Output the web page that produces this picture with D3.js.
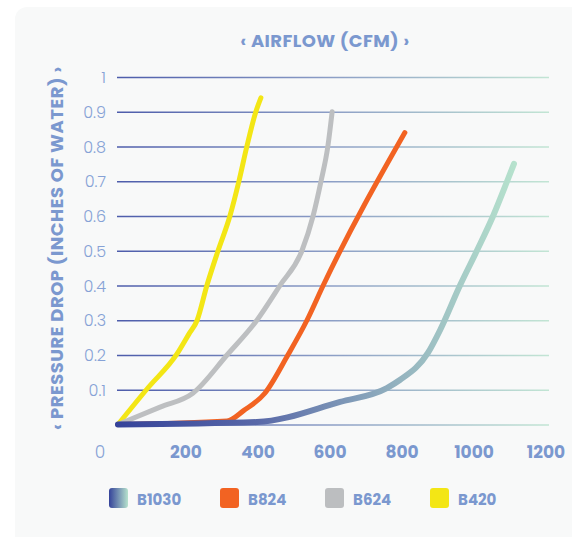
<!DOCTYPE html>
<html>
<head>
<meta charset="utf-8">
<script src="https://cdn.jsdelivr.net/npm/d3@7"></script>
<style>
  body { margin: 0; background: #fff; }
  text { font-family: Poppins, Inter, "Open Sans", sans-serif; }
</style>
</head>
<body>
<svg width="572" height="537"></svg>
<script>
// series: airflow (CFM) and pressure drop (in. of water)
const seriesNames = ['B1030', 'B824', 'B624', 'B420'];

const b1030Airflow  = [11, 397, 628, 758, 794, 872, 906, 961, 1008, 1053, 1092, 1111];
const b1030Pressure = [0, 0.007, 0.065, 0.105, 0.128, 0.206, 0.272, 0.40, 0.50, 0.60, 0.70, 0.75];

const b824Airflow  = [11, 314, 360, 419, 483, 536, 581, 808];
const b824Pressure = [0, 0.01, 0.04, 0.09, 0.20, 0.30, 0.40, 0.84];

const b624Airflow  = [11, 128, 219, 314, 397, 461, 522, 553, 575, 594, 606];
const b624Pressure = [0, 0.05, 0.09, 0.20, 0.30, 0.40, 0.50, 0.60, 0.70, 0.80, 0.90];

const b420Airflow  = [11, 94, 175, 208, 231, 258, 289, 322, 347, 369, 394, 408];
const b420Pressure = [0, 0.105, 0.203, 0.26, 0.30, 0.40, 0.50, 0.60, 0.70, 0.80, 0.90, 0.94];

const xTicks = [200, 400, 600, 800, 1000, 1200];
const yTicks = [0, 0.1, 0.2, 0.3, 0.4, 0.5, 0.6, 0.7, 0.8, 0.9, 1];

const svg = d3.select('svg');
const textColor = '#7b98cf';

// card
svg.append('rect')
    .attr('x', 15).attr('y', 7)
    .attr('width', 580).attr('height', 560)
    .attr('rx', 12)
    .attr('fill', '#f8f9f9');

const xScale = d3.scaleLinear().domain([0, 1200]).range([114, 546]);
const yScale = d3.scaleLinear().domain([0, 1]).range([424.5, 77]);

const defs = svg.append('defs');

const gridGrad = defs.append('linearGradient')
    .attr('id', 'gridGrad')
    .attr('gradientUnits', 'userSpaceOnUse')
    .attr('x1', 117).attr('x2', 549).attr('y1', 0).attr('y2', 0);
gridGrad.append('stop').attr('offset', 0).attr('stop-color', '#4d5cab');
gridGrad.append('stop').attr('offset', 0.5).attr('stop-color', '#8d9fc6');
gridGrad.append('stop').attr('offset', 1).attr('stop-color', '#c2e5d4');

const blueGrad = defs.append('linearGradient')
    .attr('id', 'blueGrad')
    .attr('gradientUnits', 'userSpaceOnUse')
    .attr('x1', 117).attr('x2', 516).attr('y1', 0).attr('y2', 0);
blueGrad.append('stop').attr('offset', 0).attr('stop-color', '#35439a');
blueGrad.append('stop').attr('offset', 0.35).attr('stop-color', '#5868a8');
blueGrad.append('stop').attr('offset', 0.7).attr('stop-color', '#93b2bf');
blueGrad.append('stop').attr('offset', 1).attr('stop-color', '#b6e2cd');

const swatchGrad = defs.append('linearGradient')
    .attr('id', 'swatchGrad')
    .attr('x1', 0).attr('x2', 1).attr('y1', 0).attr('y2', 0);
swatchGrad.append('stop').attr('offset', 0).attr('stop-color', '#35439a');
swatchGrad.append('stop').attr('offset', 1).attr('stop-color', '#b6e2cd');

// grid lines
svg.append('g').selectAll('line').data(yTicks)
    .enter().append('line')
    .attr('x1', 117).attr('x2', 549)
    .attr('y1', d => yScale(d) + 0.5).attr('y2', d => yScale(d) + 0.5)
    .attr('stroke', 'url(#gridGrad)')
    .attr('stroke-width', 1.4);

// y tick labels
svg.append('g').selectAll('text').data(yTicks.filter(d => d > 0))
    .enter().append('text')
    .attr('x', 106)
    .attr('y', d => yScale(d) + 6)
    .attr('text-anchor', 'end')
    .attr('font-size', 16)
    .attr('font-weight', 300)
    .attr('fill', '#86a2d6')
    .text(d => d3.format('~g')(d));

// x tick labels
svg.append('g').selectAll('text').data(xTicks)
    .enter().append('text')
    .attr('x', d => xScale(d))
    .attr('y', 458)
    .attr('text-anchor', 'middle')
    .attr('font-size', 17)
    .attr('font-weight', 700)
    .attr('fill', textColor)
    .text(d => d);

svg.append('text')
    .attr('x', 100).attr('y', 458)
    .attr('text-anchor', 'middle')
    .attr('font-size', 17)
    .attr('font-weight', 300)
    .attr('fill', '#86a2d6')
    .text('0');

// titles
svg.append('text')
    .attr('x', 325).attr('y', 47)
    .attr('text-anchor', 'middle')
    .attr('font-size', 18)
    .attr('font-weight', 700)
    .attr('letter-spacing', 0.4)
    .attr('fill', textColor)
    .text('‹  AIRFLOW (CFM)  ›');

svg.append('text')
    .attr('transform', 'translate(63, 248) rotate(-90)')
    .attr('text-anchor', 'middle')
    .attr('font-size', 18)
    .attr('font-weight', 700)
    .attr('letter-spacing', 0.5)
    .attr('fill', textColor)
    .text('‹  PRESSURE DROP (INCHES OF WATER)  ›');

// lines
const line = d3.line()
    .x(d => xScale(d[0]))
    .y(d => yScale(d[1]))
    .curve(d3.curveMonotoneX);

const series = [
    {name: 'B1030', x: b1030Airflow, y: b1030Pressure, color: 'url(#blueGrad)', width: 6, swatch: 'url(#swatchGrad)'},
    {name: 'B824', x: b824Airflow, y: b824Pressure, color: '#f26322', width: 5, swatch: '#f26322'},
    {name: 'B624', x: b624Airflow, y: b624Pressure, color: '#bdbfc1', width: 5, swatch: '#bcbec0'},
    {name: 'B420', x: b420Airflow, y: b420Pressure, color: '#f3e615', width: 5, swatch: '#f3e615'}
];

const drawOrder = [3, 2, 1, 0];
svg.append('g').selectAll('path').data(drawOrder.map(i => series[i]))
    .enter().append('path')
    .attr('d', s => line(s.x.map((v, i) => [v, s.y[i]])))
    .attr('fill', 'none')
    .attr('stroke', s => s.color)
    .attr('stroke-width', s => s.width)
    .attr('stroke-linecap', 'round')
    .attr('stroke-linejoin', 'round');

// legend
const legendX = [109, 220, 325, 430];
const legend = svg.append('g').selectAll('g').data(series)
    .enter().append('g')
    .attr('transform', (d, i) => `translate(${legendX[i]}, 488)`);

legend.append('rect')
    .attr('width', 19).attr('height', 20)
    .attr('rx', 3)
    .attr('fill', d => d.swatch);

legend.append('text')
    .attr('x', 28).attr('y', 17)
    .attr('font-size', 15)
    .attr('font-weight', 700)
    .attr('fill', textColor)
    .text(d => d.name);
</script>
</body>
</html>
